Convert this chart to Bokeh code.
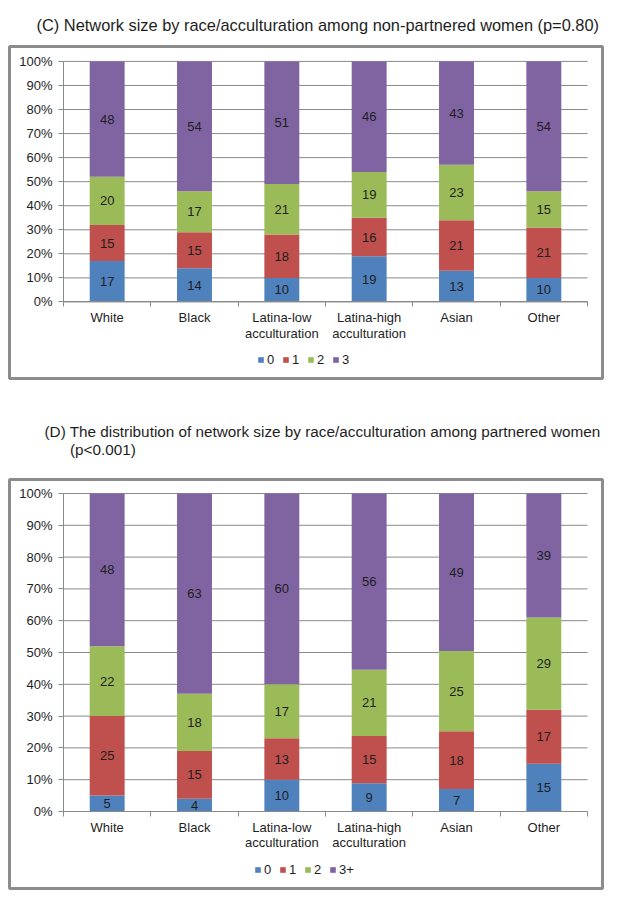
from bokeh.plotting import figure
from bokeh.models import (ColumnDataSource, FixedTicker, Legend, LegendItem, Title,
                          NumeralTickFormatter, Range1d)
from bokeh.layouts import column
from bokeh.embed import file_html
from bokeh.resources import INLINE
from bokeh.core.properties import value

# ---------------- data ----------------
categories = ["White", "Black", "Latina-low\nacculturation", "Latina-high\nacculturation", "Asian", "Other"]

series_c = ["0", "1", "2", "3"]
c_0 = [17, 14, 10, 19, 13, 10]
c_1 = [15, 15, 18, 16, 21, 21]
c_2 = [20, 17, 21, 19, 23, 15]
c_3 = [48, 54, 51, 46, 43, 54]

series_d = ["0", "1", "2", "3+"]
d_0 = [5, 4, 10, 9, 7, 15]
d_1 = [25, 15, 13, 15, 18, 17]
d_2 = [22, 18, 17, 21, 25, 29]
d_3 = [48, 63, 60, 56, 49, 39]

y_ticks = [0.0, 0.1, 0.2, 0.3, 0.4, 0.5, 0.6, 0.7, 0.8, 0.9, 1.0]

title_c = "(C) Network size by race/acculturation among non-partnered women (p=0.80)"
title_d = ("(D) The distribution of network size by race/acculturation among partnered women\n"
           + "\u00a0" * 6 + "(p<0.001)")

colors = ["#4F81BD", "#C0504D", "#9BBB59", "#8064A2"]
FONT = "Liberation Sans"
GRID = "#8a8a8a"
TXT = "#1e1e1e"

# page layout in pixels
PAGE_W = 639
BOX_L, BOX_R = 9, 602          # chart box (frame) left/right
PLOT_L, PLOT_R = 63, 587       # plotting area of the bars


def chart(series_names, rows, title, title_size, title_offset, title_standoff, title_lh,
          fig_h, box_top, box_bot, y0_px, y1_px, leg_x, leg_y):
    n = len(categories)
    xs = [i + 0.5 for i in range(n)]
    totals = [sum(r[i] for r in rows) for i in range(n)]

    ppx = (PLOT_R - PLOT_L) / n
    x_start = -(PLOT_L - BOX_L) / ppx
    x_end = n + (BOX_R - PLOT_R) / ppx
    ppy = (y0_px - y1_px)
    y_start = -(box_bot - y0_px) / ppy
    y_end = 1 + (y1_px - box_top) / ppy

    p = figure(width=PAGE_W - 2, height=fig_h, toolbar_location=None, output_backend="svg",
               x_range=Range1d(x_start, x_end), y_range=Range1d(y_start, y_end),
               min_border_left=BOX_L, min_border_right=PAGE_W - 2 - BOX_R,
               min_border_top=box_top, min_border_bottom=fig_h - box_bot,
               outline_line_color="#8c8c8c", outline_line_width=3,
               title=None)
    p.add_layout(Title(text=title, align="left", offset=title_offset, standoff=title_standoff,
                       text_font=FONT, text_font_size=title_size, text_font_style="normal",
                       text_color=TXT, text_line_height=title_lh), "above")

    # horizontal gridlines over the plotting area
    p.segment(x0=[0] * len(y_ticks), x1=[n] * len(y_ticks), y0=y_ticks, y1=y_ticks,
              line_color=GRID, line_width=1)

    items = []
    bottoms = [0.0] * n
    for name, vals, col in zip(series_names, rows, colors):
        frac = [v / t for v, t in zip(vals, totals)]
        tops = [b + f for b, f in zip(bottoms, frac)]
        mids = [(b + t) / 2 for b, t in zip(bottoms, tops)]
        src = ColumnDataSource(dict(x=xs, bottom=bottoms, top=tops, mid=mids,
                                    lab=[str(v) for v in vals]))
        r = p.vbar(x="x", width=0.4, bottom="bottom", top="top", source=src,
                   fill_color=col, line_color=None)
        p.text(x="x", y="mid", text="lab", source=src, text_align="center",
               text_baseline="middle", text_font=value(FONT), text_font_size="13px",
               text_color=TXT)
        items.append(LegendItem(label=name, renderers=[r]))
        bottoms = tops

    xa = p.xaxis[0]
    xa.fixed_location = 0
    xa.bounds = (0, n)
    xa.ticker = FixedTicker(ticks=xs, minor_ticks=list(range(n + 1)))
    xa.major_label_overrides = {x: c for x, c in zip(xs, categories)}
    xa.major_tick_line_color = None
    xa.major_tick_out = 5
    xa.major_tick_in = 0
    xa.minor_tick_out = 5
    xa.minor_tick_in = 0
    xa.minor_tick_line_color = GRID
    xa.axis_line_color = GRID
    xa.major_label_text_font = FONT
    xa.major_label_text_font_size = "13px"
    xa.major_label_text_color = TXT
    xa.major_label_text_line_height = 1.05
    xa.major_label_standoff = 3

    ya = p.yaxis[0]
    ya.fixed_location = 0
    ya.bounds = (0, 1)
    ya.ticker = FixedTicker(ticks=y_ticks, minor_ticks=[])
    ya.formatter = NumeralTickFormatter(format="0%")
    ya.major_tick_out = 5
    ya.major_tick_in = 0
    ya.major_tick_line_color = GRID
    ya.axis_line_color = GRID
    ya.major_label_text_font = FONT
    ya.major_label_text_font_size = "13px"
    ya.major_label_text_color = TXT
    ya.major_label_standoff = 6

    p.grid.visible = False

    leg = Legend(items=items, orientation="horizontal", location=(leg_x, leg_y),
                 glyph_width=7, glyph_height=7, label_standoff=3, spacing=7,
                 label_width=8, padding=4, margin=0, border_line_color=None,
                 background_fill_alpha=0,
                 label_text_font=FONT, label_text_font_size="13px",
                 label_text_color=TXT)
    p.add_layout(leg, "center")
    return p


pc = chart(series_c, [c_0, c_1, c_2, c_3], title_c, "16.4px", 27, 26, 1.0,
           fig_h=380, box_top=44, box_bot=378, y0_px=301, y1_px=59, leg_x=248, leg_y=11)
pd_ = chart(series_d, [d_0, d_1, d_2, d_3], title_d, "15.3px", 35, 43, 1.08,
            fig_h=510, box_top=99, box_bot=508, y0_px=431, y1_px=113, leg_x=245, leg_y=11)

layout = column(pc, pd_, spacing=0)
open("out.html", "w").write(file_html(layout, INLINE))
